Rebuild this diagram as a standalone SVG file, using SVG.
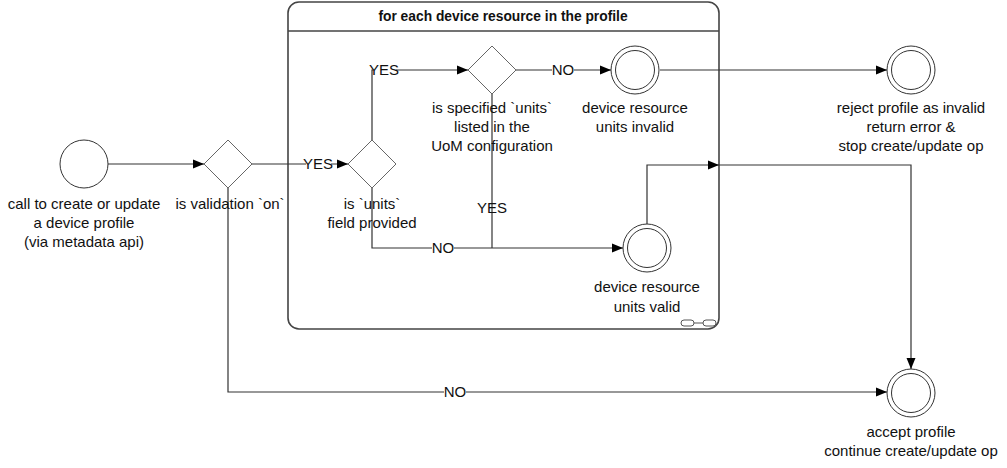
<svg xmlns="http://www.w3.org/2000/svg" width="1007" height="468" viewBox="0 0 1007 468">
<defs>
<marker id="arr" markerUnits="userSpaceOnUse" markerWidth="12" markerHeight="10" refX="11" refY="5" orient="auto">
<path d="M0,0.5 L11,5 L0,9.5 Z" fill="#000"/>
</marker>
<style>
text{font-family:"Liberation Sans",Arial,sans-serif;font-size:15px;fill:#111;text-anchor:middle}
.title{font-weight:bold;font-size:13.8px}
.edge{fill:none;stroke:#333;stroke-width:1.2}
.gw{fill:#fff;stroke:#666;stroke-width:1}
.ev{fill:#fff;stroke:#333;stroke-width:1}
.lbl{fill:#fff;stroke:none}
</style>
</defs>
<rect width="1007" height="468" fill="#fff"/>

<g id="subprocess">
<rect x="288" y="2" width="431" height="327" rx="11" ry="11" fill="#fff" stroke="#444" stroke-width="1.6"/>
<line x1="288" y1="31" x2="719" y2="31" stroke="#444" stroke-width="1.3"/>
<text class="title" x="503" y="21">for each device resource in the profile</text>
<g fill="#fff" stroke="#555" stroke-width="1">
<rect x="681" y="320" width="13" height="6" rx="3"/>
<rect x="703" y="320" width="13" height="6" rx="3"/>
<line x1="694" y1="323" x2="703" y2="323"/>
</g>
</g>

<g id="connectors">
<path class="edge" d="M108,164 H204" marker-end="url(#arr)"/>
<path class="edge" d="M252,164 H348" marker-end="url(#arr)"/>
<rect class="lbl" x="306" y="156" width="25" height="16"/>
<text x="318" y="169">YES</text>
<path class="edge" d="M228,188 V392 H887" marker-end="url(#arr)"/>
<rect class="lbl" x="444" y="385" width="22" height="16"/>
<text x="455" y="397">NO</text>
<path class="edge" d="M372,141 V70 H468" marker-end="url(#arr)"/>
<rect class="lbl" x="373" y="62" width="23" height="16"/>
<text x="384" y="75">YES</text>
<path class="edge" d="M372,188 V248 H623" marker-end="url(#arr)"/>
<rect class="lbl" x="432" y="240" width="22" height="16"/>
<text x="443" y="253">NO</text>
<path class="edge" d="M516,70 H611" marker-end="url(#arr)"/>
<rect class="lbl" x="552" y="62" width="22" height="16"/>
<text x="563" y="75">NO</text>
<path class="edge" d="M492,94 V248"/>
<text x="492" y="213">YES</text>
<path class="edge" d="M660,70 H887" marker-end="url(#arr)"/>
<path class="edge" d="M647,224 V165 H719" marker-end="url(#arr)"/>
<path class="edge" d="M719,165 H911 V369" marker-end="url(#arr)"/>
</g>

<g id="start">
<circle class="ev" cx="84" cy="164" r="24"/>
<text x="84" y="209">call to create or update</text>
<text x="84" y="228">a device profile</text>
<text x="84" y="247">(via metadata api)</text>
</g>

<g id="gw-validation">
<path class="gw" d="M228,140 L252,164 L228,188 L204,164 Z"/>
<text x="230" y="209">is validation `on`</text>
</g>

<g id="gw-units-provided">
<path class="gw" d="M372,140 L396,164 L372,188 L348,164 Z"/>
<text x="372" y="209">is `units`</text>
<text x="372" y="228">field provided</text>
</g>

<g id="gw-units-listed">
<path class="gw" d="M492,46 L516,70 L492,94 L468,70 Z"/>
<text x="492" y="113">is specified `units`</text>
<text x="492" y="132">listed in the</text>
<text x="492" y="151">UoM configuration</text>
</g>

<g id="end-invalid">
<circle class="ev" cx="635" cy="70" r="24"/>
<circle class="ev" cx="635" cy="70" r="19.5"/>
<text x="635" y="113">device resource</text>
<text x="635" y="132">units invalid</text>
</g>

<g id="end-valid">
<circle class="ev" cx="647" cy="248" r="24"/>
<circle class="ev" cx="647" cy="248" r="19.5"/>
<text x="647" y="292">device resource</text>
<text x="647" y="312">units valid</text>
</g>

<g id="end-reject">
<circle class="ev" cx="911" cy="70" r="24"/>
<circle class="ev" cx="911" cy="70" r="19.5"/>
<text x="911" y="113">reject profile as invalid</text>
<text x="911" y="132">return error &amp;</text>
<text x="911" y="151">stop create/update op</text>
</g>

<g id="end-accept">
<circle class="ev" cx="911" cy="393" r="24"/>
<circle class="ev" cx="911" cy="393" r="19.5"/>
<text x="911" y="437">accept profile</text>
<text x="911" y="456">continue create/update op</text>
</g>
</svg>
